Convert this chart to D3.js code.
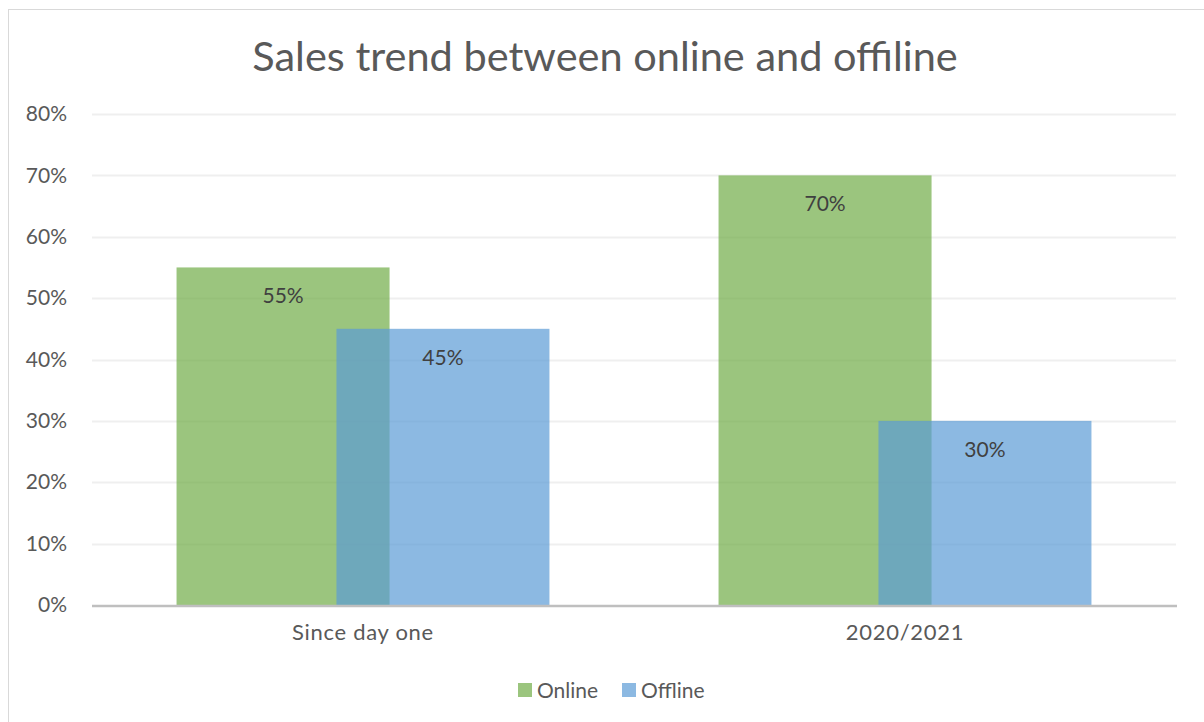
<!DOCTYPE html>
<html>
<head>
<meta charset="utf-8">
<script src="https://cdn.jsdelivr.net/npm/d3@7"></script>
<style>
  html, body { margin: 0; padding: 0; background: #fff; }
  svg { display: block; font-family: Lato, "Open Sans", sans-serif; }
</style>
</head>
<body>
<div id="chart"></div>
<script>
const categories = ["Since day one", "2020/2021"];
const seriesNames = ["Online", "Offline"];
const online = [0.55, 0.70];
const offline = [0.45, 0.30];
const yTicks = [0, 0.1, 0.2, 0.3, 0.4, 0.5, 0.6, 0.7, 0.8];

const W = 1204, H = 722;
const colors = { Online: "#70AD47", Offline: "#5B9BD5" };
const margin = { top: 114, right: 28, bottom: 117, left: 92 };
const innerW = W - margin.left - margin.right;
const innerH = H - margin.top - margin.bottom;

const svg = d3.select("#chart").append("svg").attr("width", W).attr("height", H);

// chart frame (right/bottom run off the picture)
svg.append("rect")
  .attr("x", 8.5).attr("y", 9.5)
  .attr("width", W + 20).attr("height", H + 20)
  .attr("fill", "#fff").attr("stroke", "#d9d9d9");

svg.append("text")
  .attr("x", 605).attr("y", 71)
  .attr("text-anchor", "middle")
  .attr("font-size", 41.5)
  .attr("fill", "#595959")
  .text("Sales trend between online and offiline");

const g = svg.append("g").attr("transform", `translate(${margin.left},${margin.top})`);

const x = d3.scaleBand().domain(categories).range([0, innerW]);
const y = d3.scaleLinear().domain([0, 0.8]).range([innerH, 0]);

// gridlines
g.append("g").selectAll("line")
  .data(yTicks.slice(1))
  .join("line")
  .attr("x1", 0).attr("x2", innerW)
  .attr("y1", d => Math.round(y(d)) + 0.5).attr("y2", d => Math.round(y(d)) + 0.5)
  .attr("stroke", "#efefef").attr("stroke-width", 2);

// y axis labels
const yAxis = g.append("g")
  .call(d3.axisLeft(y).tickValues(yTicks).tickFormat(d3.format(".0%")).tickSize(0).tickPadding(25));
yAxis.select(".domain").remove();
yAxis.selectAll("text").attr("font-size", 21).attr("fill", "#595959").attr("font-family", "Lato, sans-serif");

// bars: width ~39% of band, offset 29.5% of band (overlapping)
const barW = x.bandwidth() * 0.393;
const step = x.bandwidth() * 0.295;
const series = [
  { name: "Online", values: online, k: -1 },
  { name: "Offline", values: offline, k: 1 }
];

series.forEach(s => {
  const cx = (c) => x(c) + x.bandwidth() / 2 + s.k * step / 2 - barW / 2;
  g.append("g").selectAll("rect")
    .data(categories.map((c, i) => ({ c, v: s.values[i] })))
    .join("rect")
    .attr("x", d => cx(d.c))
    .attr("y", d => y(d.v))
    .attr("width", barW)
    .attr("height", d => innerH - y(d.v))
    .attr("fill", colors[s.name])
    .attr("fill-opacity", 0.7);
});

series.forEach(s => {
  g.append("g").selectAll("text")
    .data(categories.map((c, i) => ({ c, v: s.values[i] })))
    .join("text")
    .attr("x", d => x(d.c) + x.bandwidth() / 2 + s.k * step / 2)
    .attr("y", d => y(d.v) + 36)
    .attr("text-anchor", "middle")
    .attr("font-size", 21)
    .attr("fill", "#404040")
    .text(d => d3.format(".0%")(d.v));
});

// baseline
g.append("line")
  .attr("x1", 0).attr("x2", innerW + 1)
  .attr("y1", innerH + 1).attr("y2", innerH + 1)
  .attr("stroke", "#bfbfbf").attr("stroke-width", 2.5);

// x axis labels
const xAxis = g.append("g").attr("transform", `translate(0,${innerH})`)
  .call(d3.axisBottom(x).tickSize(0).tickPadding(19));
xAxis.select(".domain").remove();
xAxis.selectAll("text").attr("font-size", 22).attr("letter-spacing", 0.7)
  .attr("fill", "#595959").attr("font-family", "Lato, sans-serif");

// legend
const legend = svg.append("g").attr("transform", "translate(518,690)");
const items = [
  { name: "Online", x: 0 },
  { name: "Offline", x: 104 }
];
const li = legend.selectAll("g").data(items).join("g").attr("transform", d => `translate(${d.x},0)`);
li.append("rect")
  .attr("x", 0).attr("y", -7).attr("width", 14).attr("height", 14)
  .attr("fill", d => colors[d.name]).attr("fill-opacity", 0.7);
li.append("text")
  .attr("x", 19).attr("y", 7.5)
  .attr("font-size", 21).attr("fill", "#595959")
  .text(d => d.name);
</script>
</body>
</html>
